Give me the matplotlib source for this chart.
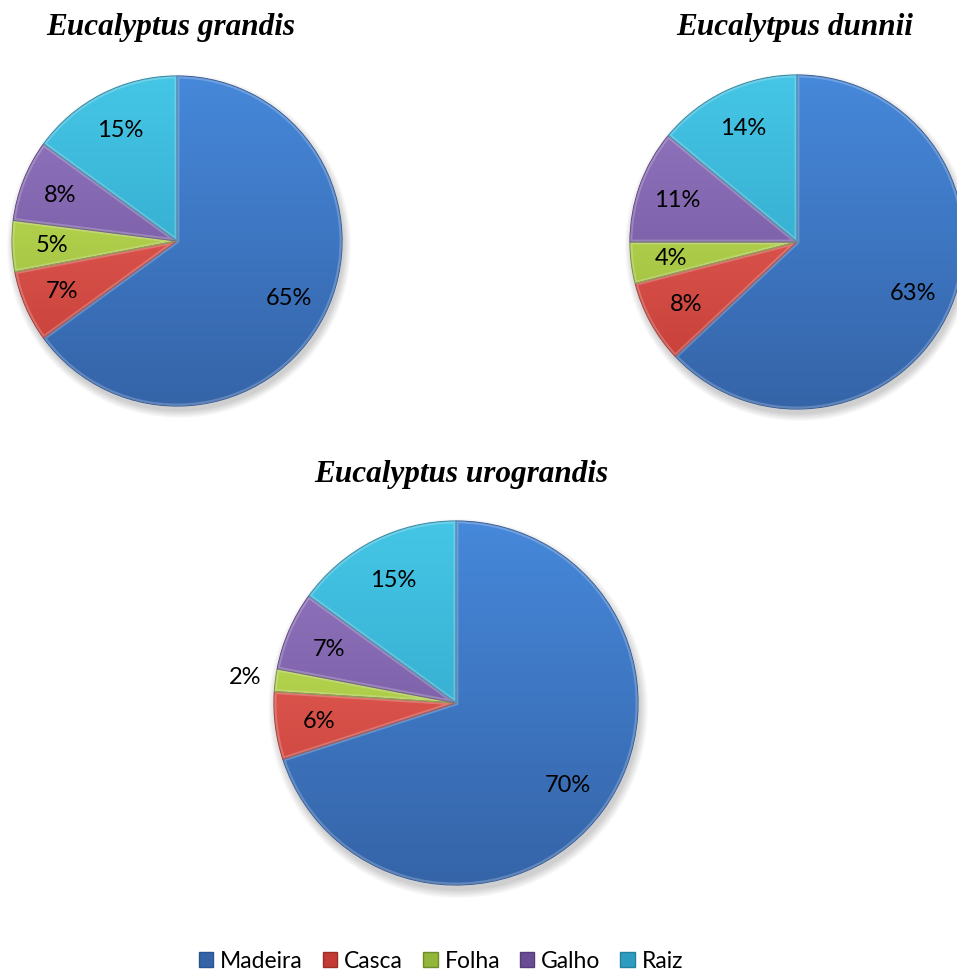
import numpy as np
import matplotlib
matplotlib.use('Agg')
import matplotlib.pyplot as plt
from matplotlib.patches import Patch, Circle, Wedge
from matplotlib.colors import LinearSegmentedColormap

#%% data (% of total biomass per component)

componentes = ['Madeira', 'Casca', 'Folha', 'Galho', 'Raiz']

grandis = [65, 7, 5, 8, 15]
dunnii = [63, 8, 4, 11, 14]
urograndis = [70, 6, 2, 7, 15]

titulos = ['Eucalyptus grandis', 'Eucalytpus dunnii', 'Eucalyptus urograndis']

# light / dark tone of each component (gradient top -> bottom)
cores_claro = ['#4688da', '#ee6a62', '#c8e458', '#9479c2', '#45c6e6']
cores_escuro = ['#3564a8', '#c23a33', '#93b53a', '#6a4c94', '#2c9cc0']
cores_borda = ['#2a5390', '#9e2c27', '#6f8e2a', '#553b7a', '#23809e']

W, H = 957, 978
fig = plt.figure(figsize=(W / 100, H / 100), dpi=100)

fonte_rot = 'Lato'


def pie_axes(cx, cy, r):
    # axes placed so that the unit circle lands on (cx, cy) with radius r, in pixels
    return fig.add_axes([(cx - r) / W, 1 - (cy + r) / H, 2 * r / W, 2 * r / H])


def desenha_pizza(ax, valores, dist_fora=None):
    # soft drop shadow under the pie
    for k in range(8):
        ax.add_patch(Circle((0.012, -0.03), 1.0 + 0.006 * k, color='k',
                            alpha=0.025, lw=0, zorder=0, clip_on=False))

    wedges, _ = ax.pie(valores, startangle=90, counterclock=False, radius=1,
                       colors=cores_escuro,
                       wedgeprops=dict(linewidth=0.8))
    for i, w in enumerate(wedges):
        w.set_edgecolor(cores_borda[i])
        w.set_zorder(2)
        cmap = LinearSegmentedColormap.from_list('g', [cores_escuro[i], cores_claro[i]])
        grad = np.linspace(0, 1, 256).reshape(-1, 1)
        im = ax.imshow(grad, extent=[-1, 1, -1, 1], origin='lower', cmap=cmap,
                       aspect='auto', zorder=1)
        im.set_clip_path(w)
        w.set_facecolor('none')
        # thin light bevel along the wedge borders
        hl = Wedge(w.center, w.r, w.theta1, w.theta2, facecolor='none',
                   edgecolor='white', linewidth=3.5, alpha=0.22, zorder=3)
        ax.add_patch(hl)
        hl.set_clip_path(w)

    # percentage labels
    total = float(sum(valores))
    ang0 = 90.0
    for i, v in enumerate(valores):
        meio = ang0 - v / total * 180.0
        ang0 = ang0 - v / total * 360.0
        d = 0.76
        if dist_fora is not None and i == dist_fora:
            d = 1.17
        x, y = d * np.cos(np.radians(meio)), d * np.sin(np.radians(meio))
        ax.text(x, y, f'{v}%', ha='center', va='center', fontsize=17,
                family=fonte_rot, color='black', zorder=5)

    ax.set_xlim(-1, 1)
    ax.set_ylim(-1, 1)
    ax.set_aspect('auto')
    ax.axis('off')


ax1 = pie_axes(177, 242, 165)
desenha_pizza(ax1, grandis)
ax2 = pie_axes(797, 243, 167)
desenha_pizza(ax2, dunnii)
ax3 = pie_axes(456, 704, 182)
desenha_pizza(ax3, urograndis, dist_fora=2)

# titles
tkw = dict(ha='center', va='center', fontsize=22.5, family='Liberation Serif',
           weight='bold', style='italic')
fig.text(171 / W, 1 - 27 / H, titulos[0], **tkw)
fig.text(795 / W, 1 - 27 / H, titulos[1], **tkw)
fig.text(461 / W, 1 - 475 / H, titulos[2], **tkw)

# legend
handles = [Patch(facecolor=cores_escuro[i], edgecolor=cores_borda[i], label=c)
           for i, c in enumerate(componentes)]
fig.legend(handles=handles, loc='center', bbox_to_anchor=(441 / W, 1 - 962 / H),
           ncol=5, frameon=False, prop=dict(family=fonte_rot, size=16.5),
           handlelength=0.65, handleheight=0.65, handletextpad=0.3,
           columnspacing=0.85)

fig.savefig('out.png', dpi=100)
